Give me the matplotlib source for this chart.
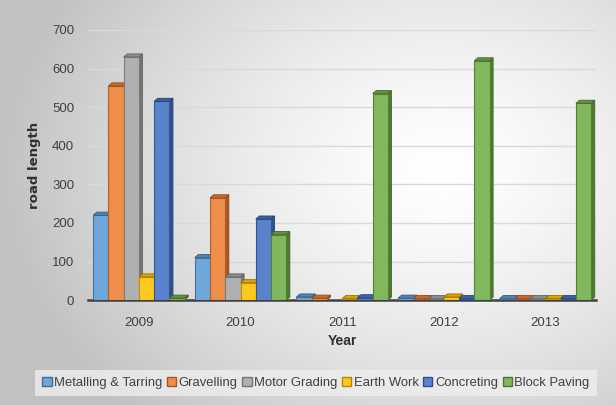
import numpy as np
import matplotlib.pyplot as plt
from matplotlib.patches import Polygon, Patch
from matplotlib.colors import to_rgb

years = ['2009', '2010', '2011', '2012', '2013']
series = ['Metalling & Tarring', 'Gravelling', 'Motor Grading',
          'Earth Work', 'Concreting', 'Block Paving']
metalling = [220, 110, 8, 5, 4]
gravelling = [555, 265, 5, 4, 4]
motor_grading = [630, 60, 0, 4, 4]
earth_work = [60, 45, 4, 8, 4]
concreting = [515, 210, 6, 4, 4]
block_paving = [5, 170, 535, 620, 510]
values = [metalling, gravelling, motor_grading, earth_work, concreting, block_paving]
colors = ['#5B9BD5', '#ED7D31', '#A5A5A5', '#FFC000', '#4472C4', '#70AD47']

plt.rcParams['font.family'] = ['Liberation Sans', 'DejaVu Sans']


def shade(c, k):
    r, g, b = to_rgb(c)
    if k < 1:
        return (r * k, g * k, b * k)
    return (r + (1 - r) * (k - 1), g + (1 - g) * (k - 1), b + (1 - b) * (k - 1))


fig = plt.figure(figsize=(6.16, 4.05), dpi=100)

# soft radial backdrop
bg = fig.add_axes([0, 0, 1, 1], zorder=-5)
yy, xx = np.mgrid[0:405, 0:616]
d = np.sqrt(((xx - 440) / 440.0) ** 2 + ((yy - 170) / 340.0) ** 2)
g = np.clip(1.0 - 0.24 * d ** 1.4, 0.76, 1.0)
bg.imshow(np.dstack([g, g, g]), aspect='auto', extent=[0, 1, 0, 1])
bg.axis('off')

ax = fig.add_axes([0.143, 0.259, 0.825, 0.667])
ax.patch.set_alpha(0)

w = 0.15
dx = 0.035
dy = 8
x = np.arange(len(years))
for i, (vals, c) in enumerate(zip(values, colors)):
    left = x - 0.45 + i * w
    ax.bar(left, vals, width=w, align='edge', color=shade(c, 1.12),
           edgecolor=shade(c, 0.75), linewidth=0.8, zorder=3)
    for l, v in zip(left, vals):
        if v <= 0:
            continue
        side = [(l + w, 0), (l + w + dx, dy), (l + w + dx, v + dy), (l + w, v)]
        top = [(l, v), (l + dx, v + dy), (l + w + dx, v + dy), (l + w, v)]
        ax.add_patch(Polygon(side, closed=True, facecolor=shade(c, 0.7),
                             edgecolor=shade(c, 0.6), linewidth=0.6, zorder=2))
        ax.add_patch(Polygon(top, closed=True, facecolor=shade(c, 0.85),
                             edgecolor=shade(c, 0.6), linewidth=0.6, zorder=3))

ax.set_xlim(-0.5, 4.5)
ax.set_ylim(0, 700)
ax.set_yticks(range(0, 701, 100))
ax.set_xticks(x)
ax.set_xticklabels(years)
ax.yaxis.grid(True, color='#d9d9d9', linewidth=1)
ax.set_axisbelow(True)
for s in ['top', 'right', 'left']:
    ax.spines[s].set_visible(False)
ax.spines['bottom'].set_color('#404040')
ax.spines['bottom'].set_linewidth(1.8)
ax.tick_params(length=0, labelsize=9.5, colors='#404040', pad=10)
ax.tick_params(axis='x', pad=12)
ax.set_ylabel('road length', fontsize=9.5, fontweight='bold', color='#303030',
              family=['DejaVu Sans'], labelpad=8)
ax.set_xlabel('Year', fontsize=10, fontweight='bold', color='#303030', labelpad=4)

handles = [Patch(facecolor=shade(c, 1.12), edgecolor=shade(c, 0.7), label=s)
           for s, c in zip(series, colors)]
leg = fig.legend(handles=handles, loc='center', bbox_to_anchor=(0.513, 0.054),
                 ncol=6, fontsize=9.4, frameon=True, handlelength=0.7,
                 handleheight=0.7, handletextpad=0.2, columnspacing=0.35,
                 borderpad=0.55, fancybox=False)
leg.get_frame().set_facecolor('#eeeeee')
leg.get_frame().set_edgecolor('none')
for t in leg.get_texts():
    t.set_color('#404040')

fig.savefig('out.png', dpi=100)
